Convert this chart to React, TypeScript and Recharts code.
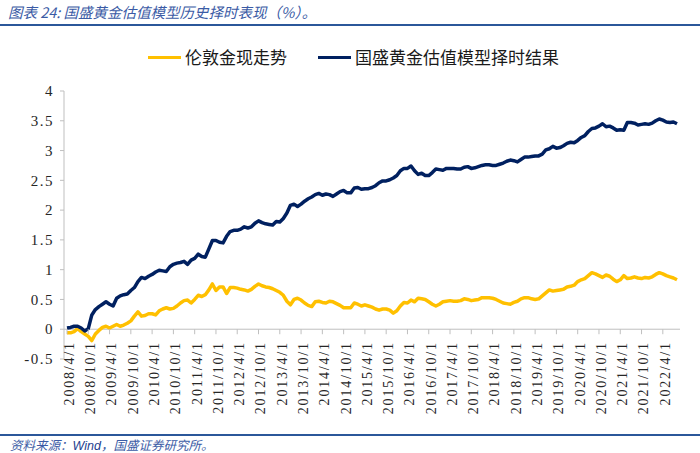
import React from "react";
import { LineChart, Line, XAxis, YAxis, ReferenceLine } from "recharts";

// ---------- data ----------
const MONTHS: string[] = (() => {
  const out: string[] = [];
  let y = 2008;
  let m = 4;
  while (y < 2022 || (y === 2022 && m <= 8)) {
    out.push(`${y}/${m}/1`);
    m += 1;
    if (m > 12) {
      m = 1;
      y += 1;
    }
  }
  return out;
})();

const TICK_LABELS: string[] = [
  "2008/4/1", "2008/10/1", "2009/4/1", "2009/10/1", "2010/4/1", "2010/10/1",
  "2011/4/1", "2011/10/1", "2012/4/1", "2012/10/1", "2013/4/1", "2013/10/1",
  "2014/4/1", "2014/10/1", "2015/4/1", "2015/10/1", "2016/4/1", "2016/10/1",
  "2017/4/1", "2017/10/1", "2018/4/1", "2018/10/1", "2019/4/1", "2019/10/1",
  "2020/4/1", "2020/10/1", "2021/4/1", "2021/10/1", "2022/4/1",
];

const Y_TICKS: number[] = [-0.5, 0, 0.5, 1, 1.5, 2, 2.5, 3, 3.5, 4];

const GOLD_NAME = "伦敦金现走势";
const MODEL_NAME = "国盛黄金估值模型择时结果";

const GOLD: number[] = [
  -0.06, -0.06, -0.04, 0.01, -0.04, -0.08, -0.12, -0.19, -0.08, -0.02,
  0.03, 0.05, 0.02, 0.05, 0.08, 0.05, 0.07, 0.1, 0.14, 0.22,
  0.29, 0.22, 0.23, 0.26, 0.26, 0.24, 0.31, 0.34, 0.36, 0.34,
  0.35, 0.39, 0.44, 0.48, 0.49, 0.44, 0.5, 0.57, 0.55, 0.58,
  0.66, 0.76, 0.65, 0.71, 0.71, 0.6, 0.7, 0.7, 0.69, 0.67,
  0.66, 0.64, 0.67, 0.72, 0.76, 0.73, 0.71, 0.7, 0.68, 0.65,
  0.62, 0.57, 0.47, 0.41, 0.5, 0.52, 0.49, 0.44, 0.4, 0.38,
  0.46, 0.47, 0.45, 0.44, 0.47, 0.46, 0.43, 0.4, 0.36, 0.36,
  0.36, 0.44, 0.42, 0.39, 0.41, 0.39, 0.37, 0.34, 0.32, 0.34,
  0.34, 0.32, 0.27, 0.31, 0.39, 0.45, 0.44, 0.49, 0.46, 0.52,
  0.51, 0.5, 0.46, 0.42, 0.39, 0.42, 0.46, 0.47, 0.48, 0.47,
  0.47, 0.48, 0.51, 0.5, 0.48, 0.49, 0.5, 0.53, 0.53, 0.53,
  0.52, 0.5, 0.47, 0.44, 0.43, 0.42, 0.45, 0.47, 0.51, 0.53,
  0.53, 0.51, 0.5, 0.51, 0.56, 0.61, 0.66, 0.64, 0.65, 0.66,
  0.67, 0.71, 0.72, 0.74, 0.8, 0.83, 0.85, 0.9, 0.95, 0.93,
  0.9, 0.87, 0.91, 0.89, 0.84, 0.8, 0.83, 0.9, 0.85, 0.86,
  0.88, 0.86, 0.85, 0.87, 0.86, 0.88, 0.92, 0.95, 0.93, 0.9,
  0.88, 0.86, 0.83,
];

const MODEL: number[] = [
  0.02, 0.03, 0.05, 0.05, 0.02, -0.03, 0.01, 0.24, 0.33, 0.38,
  0.42, 0.46, 0.42, 0.39, 0.52, 0.56, 0.58, 0.59, 0.65, 0.7,
  0.8, 0.87, 0.85, 0.89, 0.92, 0.96, 0.99, 0.98, 0.97, 1.05,
  1.09, 1.11, 1.12, 1.14, 1.09, 1.16, 1.19, 1.26, 1.22, 1.21,
  1.35, 1.49, 1.49, 1.46, 1.45, 1.56, 1.64, 1.66, 1.66, 1.68,
  1.72, 1.7, 1.72, 1.78, 1.82, 1.79, 1.77, 1.76, 1.75, 1.81,
  1.8, 1.86, 1.95, 2.08, 2.1, 2.06, 2.1, 2.15, 2.19, 2.22,
  2.26, 2.28, 2.25, 2.27, 2.26, 2.23, 2.27, 2.31, 2.33, 2.29,
  2.29, 2.37, 2.38, 2.35, 2.36, 2.36, 2.38, 2.41, 2.46, 2.49,
  2.49, 2.51, 2.54, 2.58, 2.66, 2.7, 2.7, 2.74, 2.66, 2.6,
  2.62, 2.58, 2.58, 2.63, 2.69, 2.68, 2.67, 2.7, 2.7, 2.7,
  2.69, 2.69, 2.72, 2.73, 2.7, 2.71, 2.73, 2.75, 2.76, 2.76,
  2.75, 2.75, 2.77, 2.79, 2.82, 2.84, 2.83, 2.81, 2.85, 2.89,
  2.89, 2.9, 2.91, 2.91, 2.94, 3.01, 3.03, 3.07, 3.04, 3.05,
  3.08, 3.12, 3.14, 3.13, 3.17, 3.22, 3.25, 3.32, 3.37, 3.38,
  3.41, 3.45, 3.4, 3.41, 3.38, 3.34, 3.35, 3.34, 3.47, 3.47,
  3.46, 3.43, 3.44, 3.45, 3.44, 3.46, 3.5, 3.53, 3.51, 3.48,
  3.47, 3.48, 3.45,
];

const DATA = MONTHS.map((d, i) => ({ date: d, gold: GOLD[i], model: MODEL[i] }));

// ---------- layout ----------
const W = 700;
const H = 453;
const PLOT_TOP = 91;
const PLOT_H = 268;
const Y_MIN = -0.5;
const Y_MAX = 4;
const ZERO_Y = PLOT_TOP + (PLOT_H * (Y_MAX - 0)) / (Y_MAX - Y_MIN);

const GOLD_COLOR = "#FFC000";
const MODEL_COLOR = "#002060";
const AXIS_COLOR = "#BFBFBF";
const BLUE_TEXT = "#3B5BA5";
const RULE_COLOR = "#2B579A";

const SERIES = [
  { key: "gold", name: GOLD_NAME, color: GOLD_COLOR },
  { key: "model", name: MODEL_NAME, color: MODEL_COLOR },
];

const XTick = (props: any) => {
  const { x, payload } = props;
  return (
    <g>
      <line x1={x} x2={x} y1={ZERO_Y} y2={ZERO_Y + 5} stroke={AXIS_COLOR} strokeWidth={1} />
      <text
        transform={`translate(${x + 2},${ZERO_Y + 12}) rotate(-90)`}
        textAnchor="end"
        dy="0.35em"
        fontFamily="'Liberation Serif', 'DejaVu Serif', serif"
        fontSize={14}
        letterSpacing={1.8}
        fill="#262626"
      >
        {payload.value}
      </text>
    </g>
  );
};

const YTick = (props: any) => {
  const { x, y, payload } = props;
  return (
    <text
      x={x}
      y={y}
      dy="0.35em"
      textAnchor="end"
      fontFamily="'Liberation Serif', 'DejaVu Serif', serif"
      fontSize={15}
      letterSpacing={1.5}
      fill="#262626"
    >
      {String(payload.value)}
    </text>
  );
};

export default function App() {
  return (
    <div
      style={{
        position: "absolute",
        left: 0,
        top: 0,
        width: W,
        height: H,
        background: "#fff",
        overflow: "hidden",
        fontFamily: "'Noto Sans CJK SC', sans-serif",
      }}
    >
      {/* title */}
      <div
        style={{
          position: "absolute",
          left: 8,
          top: 3,
          fontSize: 14.5,
          fontStyle: "italic",
          color: BLUE_TEXT,
          whiteSpace: "nowrap",
          lineHeight: "18px",
        }}
      >
        图表 24:  国盛黄金估值模型历史择时表现（%）。
      </div>
      <div
        style={{
          position: "absolute",
          left: 0,
          top: 24,
          width: W,
          height: 2,
          background: RULE_COLOR,
        }}
      />

      {/* legend */}
      {SERIES.map((s, i) => (
        <div
          key={s.key}
          style={{
            position: "absolute",
            left: i === 0 ? 148 : 318,
            top: 46,
            height: 22,
            display: "flex",
            alignItems: "center",
            whiteSpace: "nowrap",
          }}
        >
          <div style={{ width: 33, height: 3, background: s.color, marginRight: 4 }} />
          <span style={{ fontSize: 17, color: "#1a1a1a", lineHeight: "22px" }}>{s.name}</span>
        </div>
      ))}

      {/* chart */}
      <div style={{ position: "absolute", left: 0, top: 0 }}>
        <LineChart
          width={W}
          height={H}
          data={DATA}
          margin={{ top: PLOT_TOP, right: 20, bottom: H - PLOT_TOP - PLOT_H - 30, left: 0 }}
        >
          <XAxis
            dataKey="date"
            type="category"
            ticks={TICK_LABELS}
            interval={0}
            height={30}
            axisLine={false}
            tickLine={false}
            tick={<XTick />}
            padding={{ left: 3, right: 3 }}
          />
          <YAxis
            domain={[Y_MIN, Y_MAX]}
            ticks={Y_TICKS}
            width={64}
            axisLine={{ stroke: AXIS_COLOR }}
            tickLine={{ stroke: AXIS_COLOR }}
            tickSize={4}
            tickMargin={6}
            tick={<YTick />}
            interval={0}
          />
          <ReferenceLine y={0} stroke={AXIS_COLOR} strokeWidth={1} />
          {SERIES.map((s) => (
            <Line
              key={s.key}
              dataKey={s.key}
              name={s.name}
              stroke={s.color}
              strokeWidth={3.5}
              strokeLinejoin="round"
              dot={false}
              type="linear"
              isAnimationActive={false}
            />
          ))}
        </LineChart>
      </div>

      {/* source */}
      <div
        style={{
          position: "absolute",
          left: 0,
          top: 434,
          width: W,
          height: 2,
          background: RULE_COLOR,
        }}
      />
      <div
        style={{
          position: "absolute",
          left: 10,
          top: 437,
          fontSize: 12.5,
          fontStyle: "italic",
          color: BLUE_TEXT,
          whiteSpace: "nowrap",
          lineHeight: "15px",
        }}
      >
        资料来源：<span style={{ color: "#1F3F8F", fontFamily: "Arial, 'Liberation Sans', sans-serif" }}>Wind</span>，国盛证券研究所。
      </div>
    </div>
  );
}
